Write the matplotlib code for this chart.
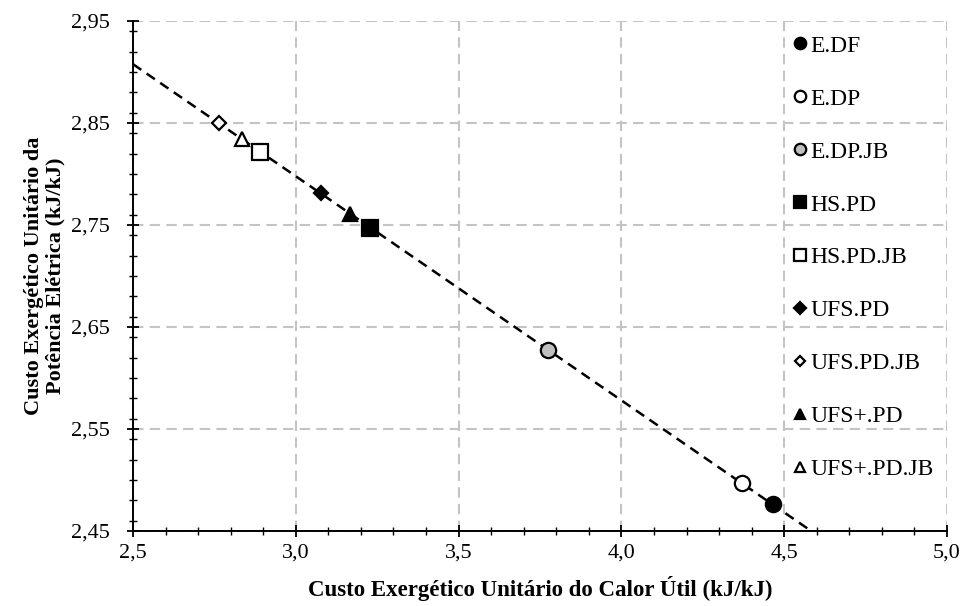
import matplotlib
matplotlib.use("Agg")
import matplotlib.pyplot as plt
from matplotlib.ticker import MultipleLocator, FuncFormatter
import numpy as np

plt.rcParams["font.family"] = ["Liberation Serif", "DejaVu Serif"]

# data
labels = ["E.DF", "E.DP", "E.DP.JB", "HS.PD", "HS.PD.JB",
          "UFS.PD", "UFS.PD.JB", "UFS+.PD", "UFS+.PD.JB"]
calor = [4.466, 4.369, 3.776, 3.229, 2.890, 3.078, 2.764, 3.166, 2.836]
potencia = [2.476, 2.497, 2.627, 2.747, 2.822, 2.781, 2.850, 2.761, 2.834]

markers = ["o", "o", "o", "s", "s", "D", "D", "^", "^"]
faces = ["black", "white", "#bfbfbf", "black", "white",
         "black", "white", "black", "white"]
sizes = [11, 11, 11, 11, 11, 7.6, 6.8, 10.5, 10.5]

fig = plt.figure(figsize=(9.66, 6.06), dpi=100)
ax = fig.add_axes([0.1377, 0.1238, 0.8426, 0.8415])

# linear trend line through all points
coef = np.polyfit(calor, potencia, 1)
xx = np.array([2.5, 5.0])
ax.plot(xx, np.polyval(coef, xx), ls=(0, (4, 2.6)), color="black", lw=1.8, zorder=2)

for x, y, m, f, s, lab in zip(calor, potencia, markers, faces, sizes, labels):
    ax.plot([x], [y], ls="none", marker=m, ms=s, mfc=f, mec="black",
            mew=1.6, label=lab, zorder=3)

ax.set_xlim(2.5, 5.0)
ax.set_ylim(2.45, 2.95)
ax.xaxis.set_major_locator(MultipleLocator(0.5))
ax.xaxis.set_minor_locator(MultipleLocator(0.1))
ax.yaxis.set_minor_locator(MultipleLocator(0.02))
ax.set_yticks(np.arange(2.45, 2.96, 0.1))
ax.xaxis.set_major_formatter(FuncFormatter(lambda v, p: f"{v:.1f}".replace(".", ",")))
ax.yaxis.set_major_formatter(FuncFormatter(lambda v, p: f"{v:.2f}".replace(".", ",")))
ax.tick_params(which="major", direction="inout", length=8, width=1.3, labelsize=16)
ax.tick_params(which="minor", direction="inout", length=6, width=1.0)
ax.tick_params(axis="x", pad=5)
ax.tick_params(axis="y", pad=13)

ax.grid(True, which="major", color="#c4c4c4", ls=(0, (5, 3)), lw=1.5)
ax.set_axisbelow(True)
for s in ["top", "right"]:
    ax.spines[s].set_visible(False)
for s in ["left", "bottom"]:
    ax.spines[s].set_linewidth(1.4)

ax.set_xlabel("Custo Exergético Unitário do Calor Útil (kJ/kJ)",
              fontsize=16.5, fontweight="bold")
ax.set_ylabel("Custo Exergético Unitário da\nPotência Elétrica (kJ/kJ)",
              fontsize=16, fontweight="bold", linespacing=1.12)
ax.xaxis.set_label_coords(0.5, -0.088)
ax.yaxis.set_label_coords(-0.083, 0.5)

ax.legend(loc="upper left", bbox_to_anchor=(0.793, 1.0), frameon=False,
          fontsize=17, markerscale=0.75, handlelength=0.6, handletextpad=0.15,
          labelspacing=1.33, borderaxespad=0.2)

fig.savefig("out.png", dpi=100)
